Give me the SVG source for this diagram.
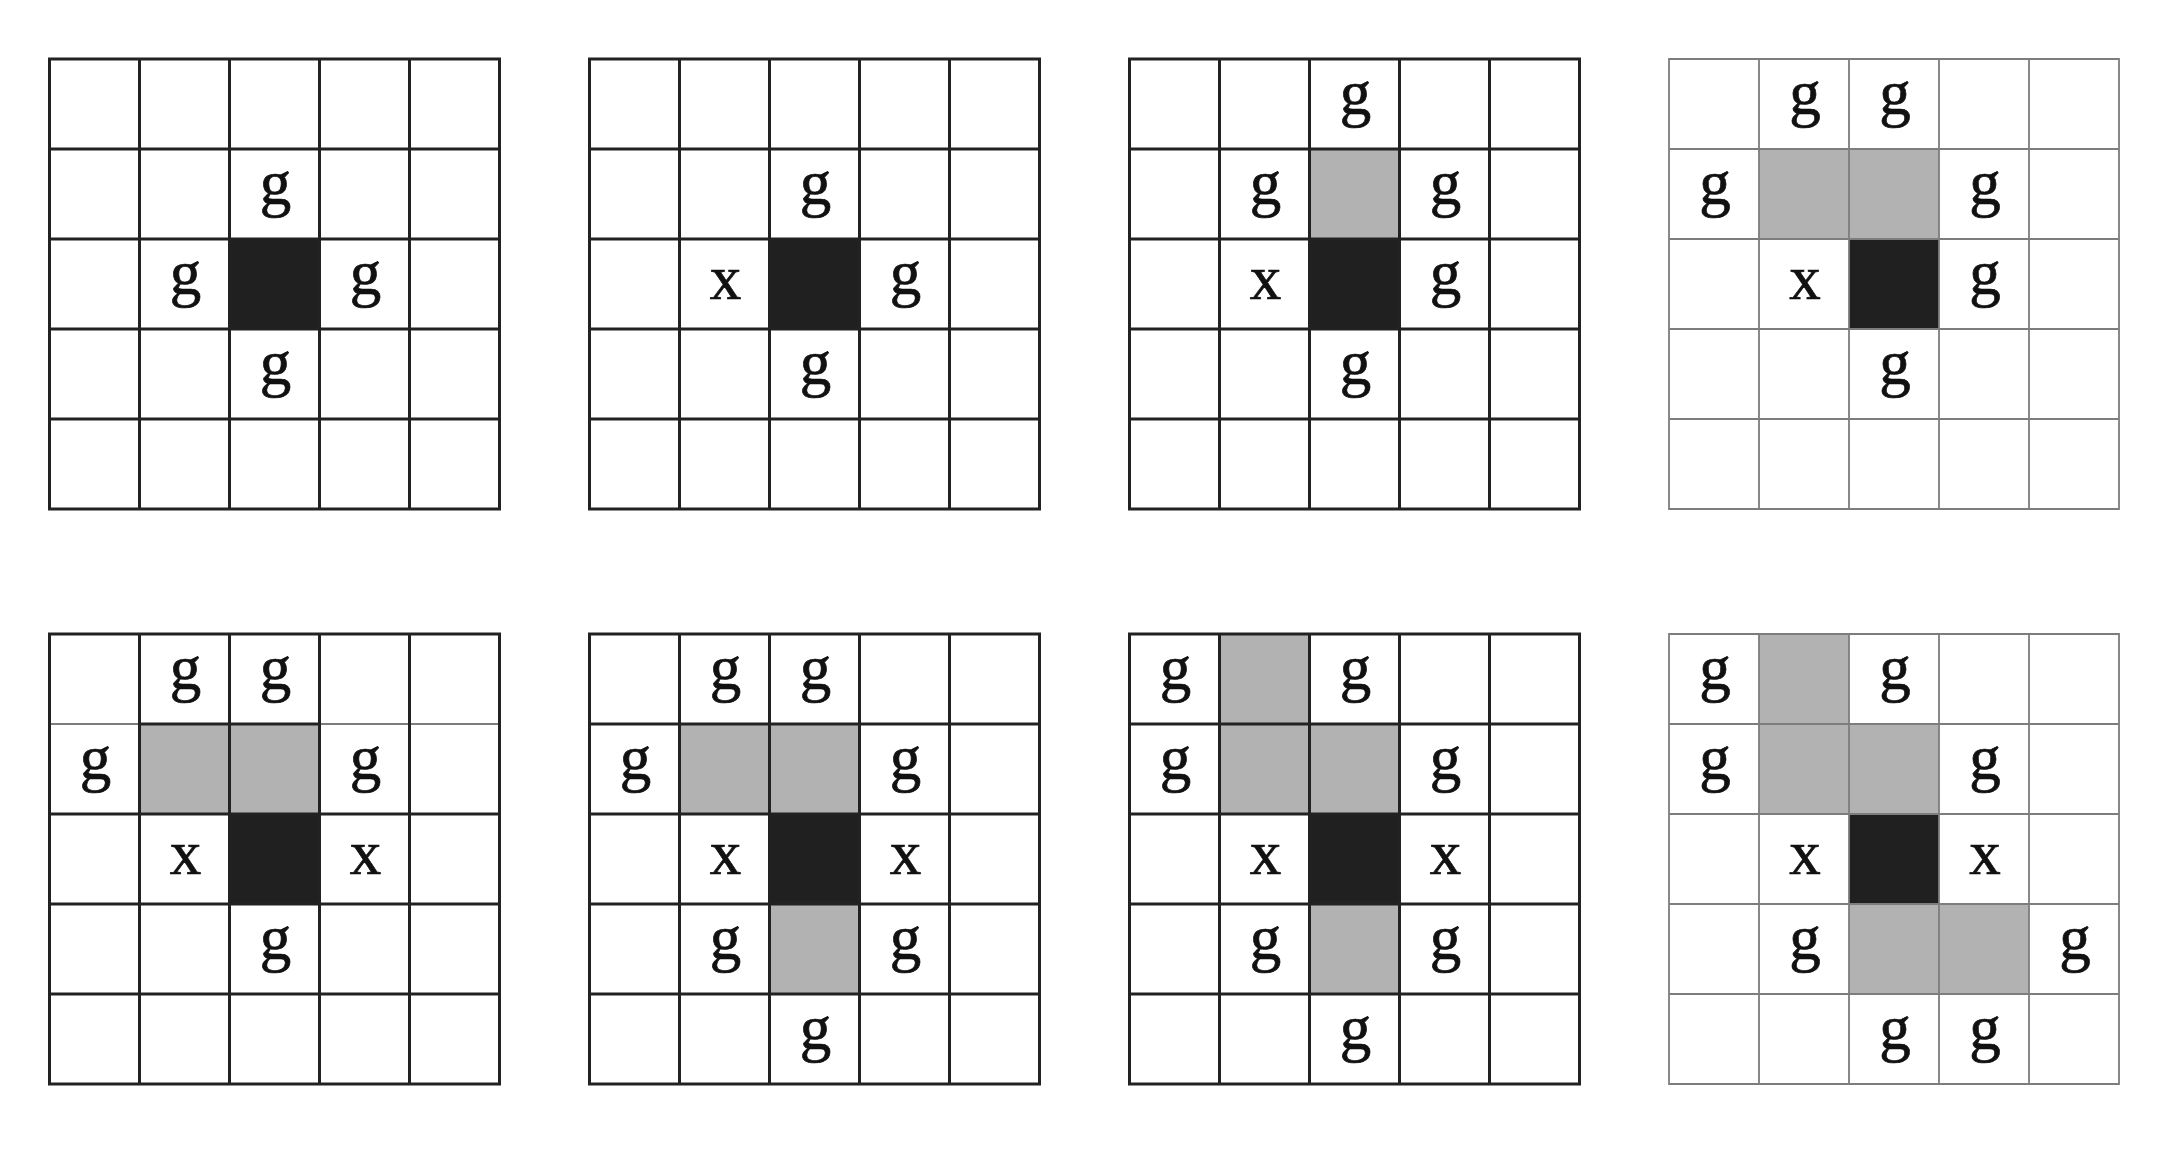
<svg xmlns="http://www.w3.org/2000/svg" width="2162" height="1150" viewBox="0 0 2162 1150">
<style>
.bg{fill:#ffffff}
.gr{fill:#b2b2b2}
.bk{fill:#202020}
.thick{fill:none;stroke:#222222;stroke-width:3}
.thin{fill:none;stroke:#7d7d7d;stroke-width:1.8}
.t{font-family:"Liberation Serif","Times New Roman",serif;font-size:63px;fill:#111111;stroke:#111111;stroke-width:0.7;text-anchor:middle}
</style>
<defs>
<path id="lines" d="M0 0H450V450H0Z M90 0V450 M180 0V450 M270 0V450 M360 0V450 M0 90H450 M0 180H450 M0 270H450 M0 360H450"/>
</defs>
<rect class="bg" x="0" y="0" width="2162" height="1150"/>

<g id="grid1" transform="translate(49.5,59)">
<rect class="bk" x="180" y="180" width="90" height="90"/>
<use href="#lines" class="thick"/>
<text class="t" x="226" y="144.5">g</text>
<text class="t" x="136" y="234.5">g</text>
<text class="t" x="316" y="234.5">g</text>
<text class="t" x="226" y="324.5">g</text>
</g>

<g id="grid2" transform="translate(589.5,59)">
<rect class="bk" x="180" y="180" width="90" height="90"/>
<use href="#lines" class="thick"/>
<text class="t" x="226" y="144.5">g</text>
<text class="t" x="136" y="240">x</text>
<text class="t" x="316" y="234.5">g</text>
<text class="t" x="226" y="324.5">g</text>
</g>

<g id="grid3" transform="translate(1129.5,59)">
<rect class="gr" x="180" y="90" width="90" height="90"/>
<rect class="bk" x="180" y="180" width="90" height="90"/>
<use href="#lines" class="thick"/>
<text class="t" x="226" y="54.5">g</text>
<text class="t" x="136" y="144.5">g</text>
<text class="t" x="316" y="144.5">g</text>
<text class="t" x="136" y="240">x</text>
<text class="t" x="316" y="234.5">g</text>
<text class="t" x="226" y="324.5">g</text>
</g>

<g id="grid4" transform="translate(1669,59)">
<rect class="gr" x="90" y="90" width="90" height="90"/>
<rect class="gr" x="180" y="90" width="90" height="90"/>
<rect class="bk" x="180" y="180" width="90" height="90"/>
<use href="#lines" class="thin"/>
<text class="t" x="136" y="54.5">g</text>
<text class="t" x="226" y="54.5">g</text>
<text class="t" x="46" y="144.5">g</text>
<text class="t" x="316" y="144.5">g</text>
<text class="t" x="136" y="240">x</text>
<text class="t" x="316" y="234.5">g</text>
<text class="t" x="226" y="324.5">g</text>
</g>

<g id="grid5" transform="translate(49.5,634)">
<rect class="gr" x="90" y="90" width="90" height="90"/>
<rect class="gr" x="180" y="90" width="90" height="90"/>
<rect class="bk" x="180" y="180" width="90" height="90"/>
<path class="thin" d="M0 90H90 M270 90H450"/>
<path class="thick" d="M0 0H450V450H0Z M90 0V450 M180 0V450 M270 0V450 M360 0V450 M90 90H270 M0 180H450 M0 270H450 M0 360H450"/>
<text class="t" x="136" y="54.5">g</text>
<text class="t" x="226" y="54.5">g</text>
<text class="t" x="46" y="144.5">g</text>
<text class="t" x="316" y="144.5">g</text>
<text class="t" x="136" y="240">x</text>
<text class="t" x="316" y="240">x</text>
<text class="t" x="226" y="324.5">g</text>
</g>

<g id="grid6" transform="translate(589.5,634)">
<rect class="gr" x="90" y="90" width="90" height="90"/>
<rect class="gr" x="180" y="90" width="90" height="90"/>
<rect class="bk" x="180" y="180" width="90" height="90"/>
<rect class="gr" x="180" y="270" width="90" height="90"/>
<use href="#lines" class="thick"/>
<text class="t" x="136" y="54.5">g</text>
<text class="t" x="226" y="54.5">g</text>
<text class="t" x="46" y="144.5">g</text>
<text class="t" x="316" y="144.5">g</text>
<text class="t" x="136" y="240">x</text>
<text class="t" x="316" y="240">x</text>
<text class="t" x="136" y="324.5">g</text>
<text class="t" x="316" y="324.5">g</text>
<text class="t" x="226" y="414.5">g</text>
</g>

<g id="grid7" transform="translate(1129.5,634)">
<rect class="gr" x="90" y="0" width="90" height="90"/>
<rect class="gr" x="90" y="90" width="90" height="90"/>
<rect class="gr" x="180" y="90" width="90" height="90"/>
<rect class="bk" x="180" y="180" width="90" height="90"/>
<rect class="gr" x="180" y="270" width="90" height="90"/>
<use href="#lines" class="thick"/>
<text class="t" x="46" y="54.5">g</text>
<text class="t" x="226" y="54.5">g</text>
<text class="t" x="46" y="144.5">g</text>
<text class="t" x="316" y="144.5">g</text>
<text class="t" x="136" y="240">x</text>
<text class="t" x="316" y="240">x</text>
<text class="t" x="136" y="324.5">g</text>
<text class="t" x="316" y="324.5">g</text>
<text class="t" x="226" y="414.5">g</text>
</g>

<g id="grid8" transform="translate(1669,634)">
<rect class="gr" x="90" y="0" width="90" height="90"/>
<rect class="gr" x="90" y="90" width="90" height="90"/>
<rect class="gr" x="180" y="90" width="90" height="90"/>
<rect class="bk" x="180" y="180" width="90" height="90"/>
<rect class="gr" x="180" y="270" width="90" height="90"/>
<rect class="gr" x="270" y="270" width="90" height="90"/>
<use href="#lines" class="thin"/>
<text class="t" x="46" y="54.5">g</text>
<text class="t" x="226" y="54.5">g</text>
<text class="t" x="46" y="144.5">g</text>
<text class="t" x="316" y="144.5">g</text>
<text class="t" x="136" y="240">x</text>
<text class="t" x="316" y="240">x</text>
<text class="t" x="136" y="324.5">g</text>
<text class="t" x="406" y="324.5">g</text>
<text class="t" x="226" y="414.5">g</text>
<text class="t" x="316" y="414.5">g</text>
</g>

<g id="connectors"></g>
</svg>
